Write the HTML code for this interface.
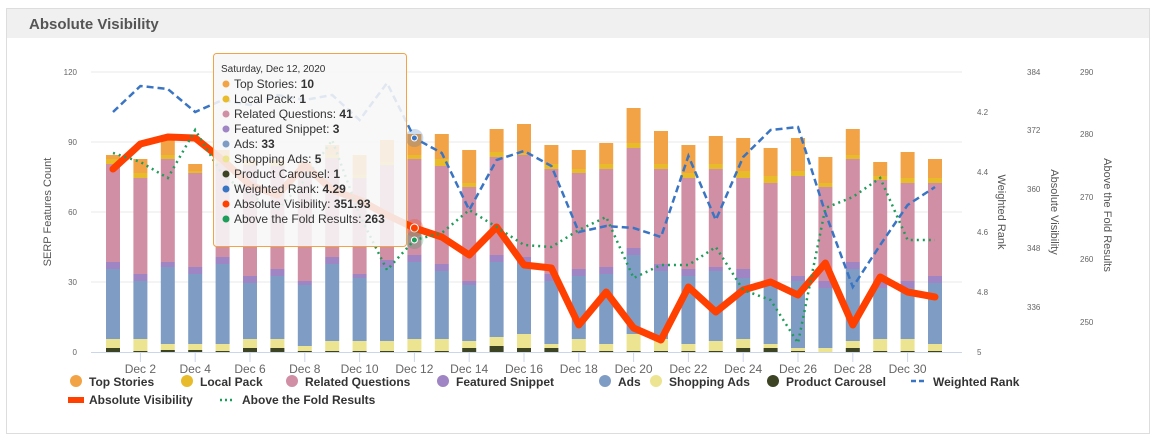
<!DOCTYPE html>
<html><head><meta charset="utf-8"><style>
body{margin:0;background:#fff;font-family:"Liberation Sans",sans-serif;}
svg text{font-family:"Liberation Sans",sans-serif;}
</style></head><body>
<svg id="s" width="1156" height="441" xmlns="http://www.w3.org/2000/svg"></svg>
<script>
const S=document.getElementById('s');let h='';
h+='<rect x="6.5" y="8.5" width="1143" height="425" fill="#fff" stroke="#ddd"/>';
h+='<rect x="7" y="9" width="1142" height="29" fill="#f0f0f0"/>';
h+='<text x="29" y="29" font-size="15" font-weight="bold" fill="#555">Absolute Visibility</text>';
// grid
[72,142,212,282].forEach(y=>h+=`<line x1="91" x2="962" y1="${y}" y2="${y}" stroke="#e8e8e8"/>`);
h+='<line x1="91" x2="962" y1="352.5" y2="352.5" stroke="#ccd6eb"/>';
[[72,'120'],[142,'90'],[212,'60'],[282,'30'],[352,'0']].forEach(([y,t])=>h+=`<text x="77" y="${y+3}" font-size="8" fill="#666" text-anchor="end">${t}</text>`);
h+='<text transform="translate(51,212) rotate(-90)" font-size="11" fill="#555" text-anchor="middle">SERP Features Count</text>';
[[112,'4.2'],[172,'4.4'],[232,'4.6'],[292,'4.8'],[352,'5']].forEach(([y,t])=>h+=`<text x="977" y="${y+3}" font-size="8" fill="#666">${t}</text>`);
[[72,'384'],[130,'372'],[189,'360'],[248,'348'],[307,'336']].forEach(([y,t])=>h+=`<text x="1027" y="${y+3}" font-size="8" fill="#666">${t}</text>`);
[[72,'290'],[134,'280'],[197,'270'],[259,'260'],[322,'250']].forEach(([y,t])=>h+=`<text x="1080" y="${y+3}" font-size="8" fill="#666">${t}</text>`);
h+='<text transform="translate(998,212) rotate(90)" font-size="11" fill="#555" text-anchor="middle">Weighted Rank</text>';
h+='<text transform="translate(1051,212) rotate(90)" font-size="11" fill="#555" text-anchor="middle">Absolute Visibility</text>';
h+='<text transform="translate(1104,215) rotate(90)" font-size="11" fill="#555" text-anchor="middle">Above the Fold Results</text>';
const X=i=>113+i*27.4;
const B=[[155,159,164,262,269,339,348],[159,173,178,274,281,339,351],[140,155,159,262,267,344,350],[164,171,173,267,274,344,350],[150,160,163,257,264,344,351],[160,163,165,276,283,339,348],[160,163,166,269,276,339,348],[163,166,168,281,285,346,351],[145,155,158,257,264,341,351],[155,175,178,274,278,341,351],[140,162,165,260,267,341,351],[134,155,159,255,262,339,351],[134,159,166,264,271,339,351],[150,183,187,281,285,341,348],[129,152,157,255,262,337,346],[124,153,155,257,264,334,348],[145,164,169,274,281,344,348],[150,169,173,269,276,339,351],[143,164,169,267,274,344,351],[108,143,148,248,255,334,351],[131,164,169,264,271,339,351],[145,173,178,269,276,344,351],[136,164,169,267,271,341,351],[138,171,178,269,278,339,348],[148,176,183,281,283,344,348],[138,171,176,276,281,348,351],[157,183,187,281,288,348,352],[129,155,159,262,269,341,348],[162,176,180,281,288,339,351],[152,178,183,281,288,339,351],[159,178,183,276,283,344,351]];
const C=['#f2a345','#e8bb2a','#d08fa4','#9f85c3','#7f9dc4','#ede491','#3d4424'];
B.forEach((b,i)=>{const x=X(i)-7;for(let k=0;k<7;k++){const y0=b[k],y1=k<6?b[k+1]:352;if(y1>y0)h+=`<rect x="${x}" y="${y0}" width="14" height="${y1-y0}" fill="${C[k]}"/>`;}});
for(let d=2;d<=30;d+=2){const x=X(d-1);h+=`<line x1="${x}" x2="${x}" y1="352" y2="362" stroke="#ccd6eb"/><text x="${x}" y="373" font-size="12" fill="#666" text-anchor="middle">Dec ${d}</text>`;}
const pts=a=>a.map((y,i)=>X(i).toFixed(1)+','+y).join(' ');
const blue=[112,86,89,112,100,105,95,100,95,120,83,138,153,210,160,151,166,232,226,228,237,156,220,157,130,127,213,287,245,205,187];
const green=[153,162,178,130,175,195,210,180,140,215,270,240,233,210,227,245,247,230,217,278,265,265,247,290,300,343,208,197,178,240,240];
const red=[169,144,137,138,160,185,195,165,190,200,215,228,237,255,227,265,268,325,292,328,340,287,312,290,282,295,263,325,277,292,297];
h+=`<polyline points="${pts(red)}" fill="none" stroke="#ff4000" stroke-width="7" stroke-linejoin="round" stroke-linecap="round"/>`;
h+=`<polyline points="${pts(blue)}" fill="none" stroke="#3a75c4" stroke-width="2.5" stroke-dasharray="7,4"/>`;
h+=`<polyline points="${pts(green)}" fill="none" stroke="#1e9c5a" stroke-width="2.5" stroke-dasharray="2,4"/>`;
const hx=X(11);
h+=`<circle cx="${hx}" cy="138" r="9" fill="#3a75c4" opacity=".25"/><circle cx="${hx}" cy="138" r="3" fill="#3a75c4" stroke="#fff"/>`;
h+=`<circle cx="${hx}" cy="228" r="9" fill="#ff4000" opacity=".25"/><circle cx="${hx}" cy="228" r="4" fill="#ff4000" stroke="#fff"/>`;
h+=`<circle cx="${hx}" cy="240" r="9" fill="#1e9c5a" opacity=".25"/><circle cx="${hx}" cy="240" r="3" fill="#1e9c5a" stroke="#fff"/>`;
// tooltip
h+='<rect x="213.5" y="53.5" width="193" height="193" rx="3" fill="#f7f7f7" fill-opacity="0.88" stroke="#f2a345"/>';
h+='<text x="221" y="72" font-size="10" fill="#333">Saturday, Dec 12, 2020</text>';
const T=[['#f2a345','Top Stories','10'],['#e8bb2a','Local Pack','1'],['#d08fa4','Related Questions','41'],['#9f85c3','Featured Snippet','3'],['#7f9dc4','Ads','33'],['#ede491','Shopping Ads','5'],['#3d4424','Product Carousel','1'],['#3a75c4','Weighted Rank','4.29'],['#ff4000','Absolute Visibility','351.93'],['#1e9c5a','Above the Fold Results','263']];
T.forEach((t,i)=>{const y=84+i*15;h+=`<circle cx="226" cy="${y}" r="3.5" fill="${t[0]}"/><text x="234" y="${y+4}" font-size="12" fill="#333">${t[1]}: <tspan font-weight="bold">${t[2]}</tspan></text>`;});
// legend
const L=[[76,'#f2a345','Top Stories'],[187,'#e8bb2a','Local Pack'],[292,'#d08fa4','Related Questions'],[443,'#9f85c3','Featured Snippet'],[605,'#7f9dc4','Ads'],[656,'#ede491','Shopping Ads'],[773,'#3d4424','Product Carousel']];
L.forEach(l=>h+=`<circle cx="${l[0]}" cy="381" r="6" fill="${l[1]}"/><text x="${l[0]+13}" y="386" font-size="12" font-weight="bold" fill="#333">${l[2]}</text>`);
h+='<line x1="911" x2="926" y1="381" y2="381" stroke="#3a75c4" stroke-width="2.5" stroke-dasharray="5,3"/><text x="933" y="386" font-size="12" font-weight="bold" fill="#333">Weighted Rank</text>';
h+='<rect x="68" y="397" width="16" height="6" fill="#ff4000"/><text x="89" y="404" font-size="12" font-weight="bold" fill="#333">Absolute Visibility</text>';
h+='<line x1="220" x2="234" y1="400" y2="400" stroke="#1e9c5a" stroke-width="2.5" stroke-dasharray="2,3"/><text x="242" y="404" font-size="12" font-weight="bold" fill="#333">Above the Fold Results</text>';
S.innerHTML=h;
</script>
</body></html>
